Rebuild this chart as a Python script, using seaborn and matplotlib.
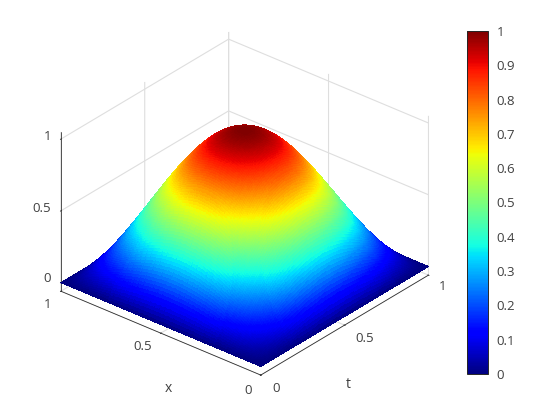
import matplotlib
matplotlib.use("Agg")
import matplotlib.pyplot as plt
import seaborn as sns
import numpy as np

# half of the height profile, read along one side of the dome (the other half mirrors it)
half_profile = [0, .0196, .0393, .0589, .0785, .0980, .1175, .1370, .1564, .1758, .1951, .2143,
                .2334, .2525, .2714, .2903, .3090, .3276, .3461, .3645, .3827, .4008, .4187,
                .4364, .4540, .4714, .4886, .5057, .5225, .5392, .5556, .5718, .5878, .6036,
                .6191, .6344, .6494, .6642, .6788, .6931, .7071, .7210, .7343, .7475, .7604,
                .7730, .7853, .7974, .8090, .8204, .8315, .8423, .8526, .8628, .8725, .8819,
                .8910, .8998, .9081, .9162, .9239, .9312, .9382, .9448, .9511, .9569, .9625,
                .9676, .9724, .9767, .9808, .9844, .9877, .9906, .9931, .9952, .9969, .9983,
                .9992, .9998, 1]
x_ticks = [0, 0.5, 1]
t_ticks = [0, 0.5, 1]
z_ticks = [0, 0.5, 1]
tick_names = ["0", "0.5", "1"]
bar_ticks = [0, .1, .2, .3, .4, .5, .6, .7, .8, .9, 1]
bar_names = ["0", "0.1", "0.2", "0.3", "0.4", "0.5", "0.6", "0.7", "0.8", "0.9", "1"]

sns.set_theme(style="white")
plt.rcParams['font.family'] = ['Open Sans', 'DejaVu Sans']
jet = plt.get_cmap("jet")
grey = "#404040"

profile = np.array(half_profile + half_profile[-2::-1])
x = np.linspace(0, 1, len(profile))
t = np.linspace(0, 1, len(profile))
T, X = np.meshgrid(t, x)
U = np.outer(profile, profile)

fig = plt.figure(figsize=(5.6, 4.2), dpi=100)
ax = fig.add_axes([1 / 560, 0.8 / 420, 0.85, 1], projection="3d", proj_type="ortho")
ax.view_init(elev=30, azim=-140)
ax.set_box_aspect((1, 1, 0.705), zoom=0.953)
surf = ax.plot_surface(T, X, U, cmap=jet, vmin=0, vmax=1, rstride=1, cstride=1,
                       linewidth=0, antialiased=False, shade=False)
ax.set_xlim(0, 1, view_margin=0)
ax.set_ylim(0, 1, view_margin=0)
ax.set_zlim(-0.06, 1.05, view_margin=0)
ax.set_xticks(t_ticks, ["", "", ""])
ax.set_yticks(x_ticks, ["", "", ""])
ax.set_zticks(z_ticks, ["", "", ""])
for a in [ax.xaxis, ax.yaxis, ax.zaxis]:
    a.pane.set_visible(False)
    a.line.set_color("#262626")
    a.line.set_linewidth(0.55)
    a._axinfo["grid"].update(color="#dedede", linewidth=0.8)
    a._axinfo["tick"].update(inward_factor=0.04, outward_factor=0.04, linewidth={True: 0.6, False: 0.6})
ax.tick_params(color="#262626")
ax.grid(True)


def label_at(px, py, s, ha="center", size=9.5):
    fig.text(px / 560, 1 - py / 420, s, ha=ha, va="center", fontsize=size, color=grey)


for py, name in zip([279, 208, 137], tick_names):
    label_at(51, py, name, ha="right")
for px, py, name in zip([248, 143, 48], [390, 347, 305], tick_names):
    label_at(px, py, name)
for px, py, name in zip([276, 365, 443], [388, 338, 287], tick_names):
    label_at(px, py, name)
label_at(168, 388, "x", size=10)
label_at(348, 384, "t", size=10)

cax = fig.add_axes([467 / 560, 1 - 374 / 420, 21 / 560, 343 / 420])
cb = fig.colorbar(surf, cax=cax)
cb.set_ticks(bar_ticks, labels=bar_names)
cax.tick_params(direction="in", length=3, width=0.6, color="#262626", labelsize=9.5, labelcolor=grey, pad=6, right=True)
cb.outline.set_edgecolor("#262626")
cb.outline.set_linewidth(0.7)

fig.savefig("out.png", dpi=100)
